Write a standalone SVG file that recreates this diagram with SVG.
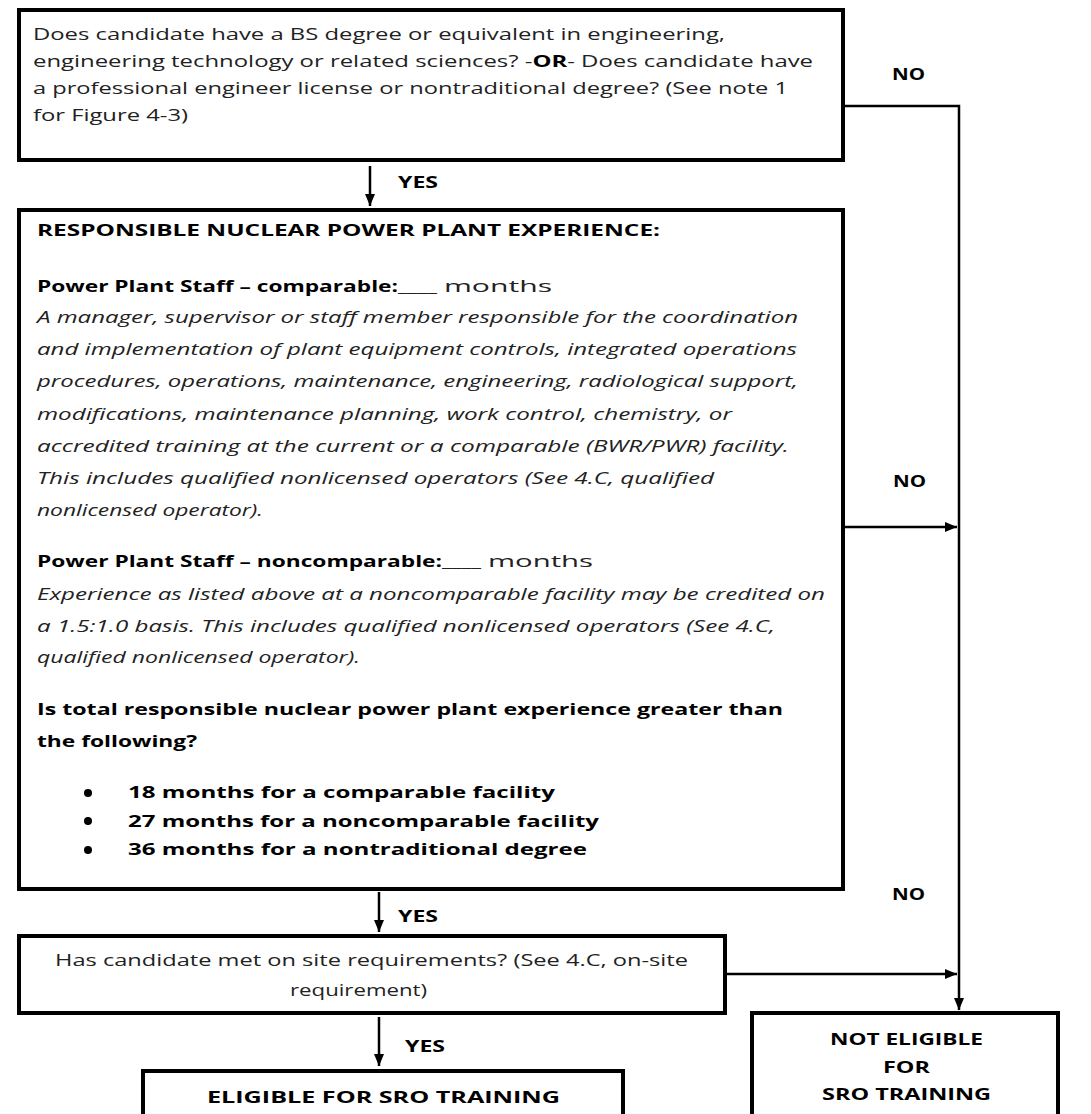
<svg xmlns="http://www.w3.org/2000/svg" width="1091" height="1114" viewBox="0 0 1091 1114">
<defs>
<marker id="ah" markerUnits="userSpaceOnUse" markerWidth="14" markerHeight="12" refX="12" refY="5" orient="auto">
<path d="M0,0 L12,5 L0,10 Z" fill="#000"/>
</marker>
<style>
.box{fill:#fff;stroke:#000;stroke-width:4}
.conn{fill:none;stroke:#000;stroke-width:2.5}
.t{font-family:"Open Sans","Noto Sans","Liberation Sans",sans-serif;font-size:16px;fill:#222}
.b{font-family:"Open Sans","Noto Sans","Liberation Sans",sans-serif;font-size:16px;font-weight:bold;fill:#000}
.i{font-family:"Open Sans","Noto Sans","Liberation Sans",sans-serif;font-size:16px;font-style:italic;fill:#222}
.lbl{font-family:"Open Sans","Noto Sans","Liberation Sans",sans-serif;font-size:16px;font-weight:bold;fill:#000}
</style>
</defs>
<rect width="1091" height="1114" fill="#fff"/>

<g id="connectors">
<path class="conn" d="M843,106 H959 V1010" marker-end="url(#ah)"/>
<path class="conn" d="M843,527 H957" marker-end="url(#ah)"/>
<path class="conn" d="M725,974 H957" marker-end="url(#ah)"/>
<path class="conn" d="M370,166 V206" marker-end="url(#ah)" stroke-width="2"/>
<path class="conn" d="M379,892 V932" marker-end="url(#ah)" stroke-width="2"/>
<path class="conn" d="M379,1017 V1066" marker-end="url(#ah)" stroke-width="2"/>
<text class="lbl" x="398" y="188" textLength="40" lengthAdjust="spacingAndGlyphs">YES</text>
<text class="lbl" x="398" y="922" textLength="40" lengthAdjust="spacingAndGlyphs">YES</text>
<text class="lbl" x="405" y="1052" textLength="40" lengthAdjust="spacingAndGlyphs">YES</text>
<text class="lbl" x="892" y="80" textLength="33" lengthAdjust="spacingAndGlyphs">NO</text>
<text class="lbl" x="893" y="487" textLength="33" lengthAdjust="spacingAndGlyphs">NO</text>
<text class="lbl" x="892" y="900" textLength="33" lengthAdjust="spacingAndGlyphs">NO</text>
</g>

<g id="node-degree">
<rect class="box" x="19" y="10" width="824" height="150"/>
<text class="t" x="33" y="40" textLength="692" lengthAdjust="spacingAndGlyphs">Does candidate have a BS degree or equivalent in engineering,</text>
<text class="t" x="33" y="67" textLength="780" lengthAdjust="spacingAndGlyphs">engineering technology or related sciences? -<tspan class="b">OR</tspan>- Does candidate have</text>
<text class="t" x="33" y="94" textLength="755" lengthAdjust="spacingAndGlyphs">a professional engineer license or nontraditional degree? (See note 1</text>
<text class="t" x="33" y="121" textLength="155" lengthAdjust="spacingAndGlyphs">for Figure 4-3)</text>
</g>

<g id="node-experience">
<rect class="box" x="19" y="210" width="824" height="679"/>
<text class="b" x="37" y="236" textLength="623" lengthAdjust="spacingAndGlyphs">RESPONSIBLE NUCLEAR POWER PLANT EXPERIENCE:</text>
<text class="b" x="37" y="292" textLength="361" lengthAdjust="spacingAndGlyphs">Power Plant Staff – comparable:</text>
<text class="t" x="398" y="292" textLength="39" lengthAdjust="spacingAndGlyphs">____</text>
<text class="t" x="444" y="292" textLength="108" lengthAdjust="spacingAndGlyphs">months</text>
<text class="i" x="37" y="323" textLength="761" lengthAdjust="spacingAndGlyphs">A manager, supervisor or staff member responsible for the coordination</text>
<text class="i" x="37" y="355" textLength="760" lengthAdjust="spacingAndGlyphs">and implementation of plant equipment controls, integrated operations</text>
<text class="i" x="37" y="387" textLength="761" lengthAdjust="spacingAndGlyphs">procedures, operations, maintenance, engineering, radiological support,</text>
<text class="i" x="37" y="420" textLength="695" lengthAdjust="spacingAndGlyphs">modifications, maintenance planning, work control, chemistry, or</text>
<text class="i" x="37" y="452" textLength="752" lengthAdjust="spacingAndGlyphs">accredited training at the current or a comparable (BWR/PWR) facility.</text>
<text class="i" x="37" y="484" textLength="677" lengthAdjust="spacingAndGlyphs">This includes qualified nonlicensed operators (See 4.C, qualified</text>
<text class="i" x="37" y="516" textLength="226" lengthAdjust="spacingAndGlyphs">nonlicensed operator).</text>
<text class="b" x="37" y="567" textLength="405" lengthAdjust="spacingAndGlyphs">Power Plant Staff – noncomparable:</text>
<text class="t" x="442" y="567" textLength="39" lengthAdjust="spacingAndGlyphs">____</text>
<text class="t" x="488" y="567" textLength="105" lengthAdjust="spacingAndGlyphs">months</text>
<text class="i" x="37" y="600" textLength="788" lengthAdjust="spacingAndGlyphs">Experience as listed above at a noncomparable facility may be credited on</text>
<text class="i" x="37" y="632" textLength="738" lengthAdjust="spacingAndGlyphs">a 1.5:1.0 basis. This includes qualified nonlicensed operators (See 4.C,</text>
<text class="i" x="37" y="663" textLength="323" lengthAdjust="spacingAndGlyphs">qualified nonlicensed operator).</text>
<text class="b" x="37" y="715" textLength="746" lengthAdjust="spacingAndGlyphs">Is total responsible nuclear power plant experience greater than</text>
<text class="b" x="37" y="747" textLength="160" lengthAdjust="spacingAndGlyphs">the following?</text>
<circle cx="88" cy="793" r="4" fill="#000"/>
<circle cx="88" cy="821" r="4" fill="#000"/>
<circle cx="88" cy="850" r="4" fill="#000"/>
<text class="b" x="128" y="798" textLength="427" lengthAdjust="spacingAndGlyphs">18 months for a comparable facility</text>
<text class="b" x="128" y="827" textLength="471" lengthAdjust="spacingAndGlyphs">27 months for a noncomparable facility</text>
<text class="b" x="128" y="855" textLength="459" lengthAdjust="spacingAndGlyphs">36 months for a nontraditional degree</text>
</g>

<g id="node-onsite">
<rect class="box" x="19" y="936" width="706" height="77"/>
<text class="t" x="55" y="966" textLength="633" lengthAdjust="spacingAndGlyphs">Has candidate met on site requirements? (See 4.C, on-site</text>
<text class="t" x="290" y="996" textLength="137" lengthAdjust="spacingAndGlyphs">requirement)</text>
</g>

<g id="node-eligible">
<rect class="box" x="143" y="1071" width="480" height="60"/>
<text class="b" x="207" y="1103" textLength="353" lengthAdjust="spacingAndGlyphs">ELIGIBLE FOR SRO TRAINING</text>
</g>

<g id="node-not-eligible">
<rect class="box" x="752" y="1013" width="306" height="120"/>
<text class="b" x="830" y="1045" textLength="153" lengthAdjust="spacingAndGlyphs">NOT ELIGIBLE</text>
<text class="b" x="883" y="1073" textLength="47" lengthAdjust="spacingAndGlyphs">FOR</text>
<text class="b" x="822" y="1100" textLength="169" lengthAdjust="spacingAndGlyphs">SRO TRAINING</text>
</g>
</svg>
